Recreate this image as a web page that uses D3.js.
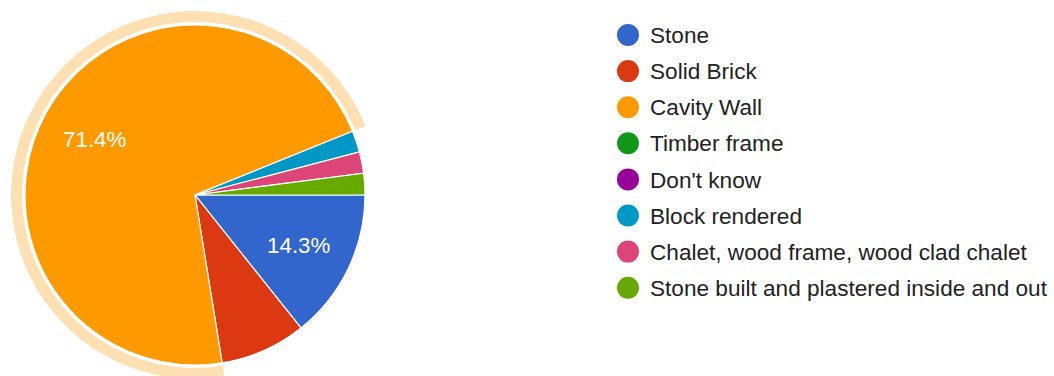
<!DOCTYPE html>
<html>
<head>
<meta charset="utf-8">
<script src="https://cdn.jsdelivr.net/npm/d3@7"></script>
<style>
  html, body { margin: 0; padding: 0; background: #fff; }
  svg { display: block; font-family: Arial, "Liberation Sans", sans-serif; }
</style>
</head>
<body>
<svg id="chart" width="1054" height="376"></svg>
<script>
// Wall construction types and response counts
const categories = [
  "Stone",
  "Solid Brick",
  "Cavity Wall",
  "Timber frame",
  "Don't know",
  "Block rendered",
  "Chalet, wood frame, wood clad chalet",
  "Stone built and plastered inside and out"
];
const counts = [7, 4, 35, 0, 0, 1, 1, 1];
const colors = ["#3366cc", "#dc3912", "#ff9900", "#109618", "#990099", "#0099c6", "#dd4477", "#66aa00"];
const highlighted = "Cavity Wall";

const svg = d3.select("#chart");
const cx = 195, cy = 195, radius = 170;

const data = categories.map((name, i) => ({ name, value: counts[i], color: colors[i] }));
const total = d3.sum(counts);

// Pie starts at 3 o'clock and runs clockwise in category order
const pie = d3.pie()
  .sort(null)
  .value(d => d.value)
  .startAngle(Math.PI / 2)
  .endAngle(Math.PI / 2 + 2 * Math.PI);

const arcs = pie(data).filter(a => a.data.value > 0);

const g = svg.append("g").attr("transform", `translate(${cx},${cy})`);

const arc = d3.arc().innerRadius(0).outerRadius(radius);
const ring = d3.arc().innerRadius(radius + 3).outerRadius(radius + 14);

// Highlight ring around the selected slice
g.selectAll("path.ring")
  .data(arcs.filter(a => a.data.name === highlighted))
  .join("path")
  .attr("class", "ring")
  .attr("d", ring)
  .attr("fill", "#ffe0b3");

g.selectAll("path.slice")
  .data(arcs)
  .join("path")
  .attr("class", "slice")
  .attr("d", arc)
  .attr("fill", d => d.data.color)
  .attr("stroke", "#fff")
  .attr("stroke-width", 1.2);

// Percentage labels on slices big enough to hold them
const labelArc = d3.arc().innerRadius(radius * 0.677).outerRadius(radius * 0.677);
g.selectAll("text.pct")
  .data(arcs.filter(a => a.data.value / total >= 0.1))
  .join("text")
  .attr("class", "pct")
  .attr("transform", d => `translate(${labelArc.centroid(d)})`)
  .attr("text-anchor", "middle")
  .attr("dy", "0.36em")
  .attr("fill", "#fff")
  .attr("font-size", 22.3)
  .text(d => (d.data.value / total * 100).toFixed(1) + "%");

// Legend
const legend = svg.append("g").attr("transform", "translate(628,35)");
const rowH = 36.1;
const item = legend.selectAll("g.item")
  .data(data)
  .join("g")
  .attr("class", "item")
  .attr("transform", (d, i) => `translate(0,${i * rowH})`);

item.append("circle")
  .attr("r", 11)
  .attr("fill", d => d.color);

item.append("text")
  .attr("x", 22)
  .attr("dy", "0.36em")
  .attr("font-size", 22.6)
  .attr("fill", "#222")
  .text(d => d.name);
</script>
</body>
</html>
